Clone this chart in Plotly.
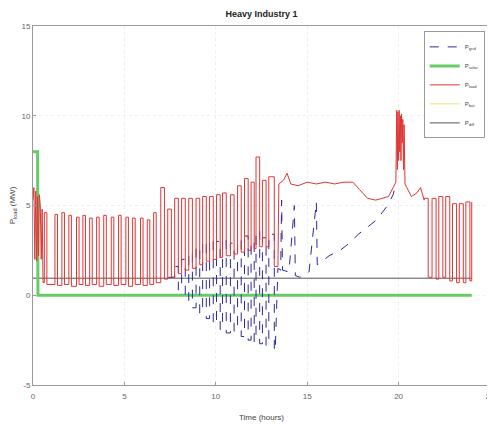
import plotly.graph_objects as go

# ---------------- data ----------------
# P_load: initial dense part
load_init_t = [0.0, 0.05, 0.1, 0.15, 0.2, 0.25, 0.3, 0.35, 0.4, 0.45, 0.5, 0.55]
load_init_v = [5.3, 6.0, 2.0, 5.8, 1.9, 5.5, 2.2, 5.6, 5.0, 2.0, 4.8, 0.7]

# P_load pulses, early morning
p1_on = [0.62, 1.2, 1.58, 1.96, 2.38, 2.73, 3.1, 3.48, 3.87, 4.28, 4.68, 5.08, 5.45, 5.88, 6.25, 6.6]
p1_off = [0.76, 1.34, 1.72, 2.1, 2.52, 2.87, 3.24, 3.62, 4.01, 4.42, 4.82, 5.22, 5.59, 6.02, 6.39, 6.74]
p1_top = [4.6, 4.5, 4.6, 4.45, 4.35, 4.45, 4.3, 4.35, 4.45, 4.35, 4.45, 4.35, 4.3, 4.3, 4.2, 4.6]
p1_base = [0.6, 0.55, 0.6, 0.5, 0.6, 0.55, 0.6, 0.5, 0.6, 0.55, 0.6, 0.5, 0.6, 0.55, 0.6, 0.7]

# P_load pulses, late morning / midday
p2_on = [6.99, 7.37, 7.75, 8.13, 8.52, 8.92, 9.28, 9.66, 10.04, 10.37, 10.8, 11.19, 11.57, 11.93, 12.2, 12.55, 12.9]
p2_off = [7.19, 7.57, 7.95, 8.33, 8.72, 9.12, 9.48, 9.86, 10.24, 10.57, 11.0, 11.39, 11.77, 12.1, 12.4, 12.75, 13.2]
p2_top = [6.0, 4.8, 5.4, 5.4, 5.4, 5.4, 5.5, 5.5, 5.6, 5.7, 5.6, 6.1, 6.5, 6.3, 7.7, 6.4, 6.6]
p2_base = [0.9, 1.0, 1.2, 1.4, 1.5, 1.7, 1.9, 2.0, 2.1, 2.2, 2.3, 2.4, 2.5, 2.6, 2.7, 2.7, 1.6]

# P_load continuous afternoon part incl. evening peak
load_mid_t = [13.4, 13.45, 13.7, 13.9, 14.1, 14.5, 15.0, 15.5, 16.0, 16.5, 17.0, 17.5, 17.85, 18.3, 18.75, 19.1, 19.45, 19.7, 19.85,
              19.9, 19.93, 19.96, 20.0, 20.03, 20.06, 20.1, 20.13, 20.16, 20.2, 20.23, 20.27, 20.3, 20.35,
              20.45, 20.7, 21.0, 21.2, 21.4]
load_mid_v = [1.6, 6.2, 6.4, 6.8, 6.2, 6.1, 6.3, 6.2, 6.3, 6.2, 6.3, 6.3, 5.9, 5.4, 5.3, 5.4, 5.5, 6.0, 6.3,
              10.3, 7.0, 10.2, 7.5, 10.3, 8.0, 10.0, 7.5, 10.1, 8.5, 9.8, 7.0, 9.5, 6.2,
              6.0, 5.5, 5.7, 6.0, 5.3]

# P_load pulses, evening
p3_on = [21.4, 21.83, 22.2, 22.58, 22.95, 23.32, 23.68, 24.0]
p3_off = [21.62, 22.05, 22.42, 22.8, 23.17, 23.54, 23.9, 24.0]
p3_top = [5.4, 5.4, 5.5, 5.5, 5.1, 5.1, 5.2, 5.2]
p3_base = [1.0, 0.9, 1.0, 0.8, 0.7, 0.7, 0.8, 5.2]

# P_grid (differs from P_load only between ~7.7 h and ~19.9 h)
g_on = [7.75, 8.13, 8.52, 8.92, 9.28, 9.66, 10.04, 10.37, 10.8, 11.19, 11.57, 11.93, 12.2, 12.55, 12.9]
g_off = [7.95, 8.33, 8.72, 9.12, 9.48, 9.86, 10.24, 10.57, 11.0, 11.39, 11.77, 12.1, 12.4, 12.75, 13.2]
g_top = [1.6, 2.0, 2.4, 2.7, 3.0, 3.1, 3.0, 3.2, 2.9, 3.1, 3.3, 3.0, 3.6, 3.2, 3.4]
g_base = [0.3, -0.3, -0.7, -1.0, -1.3, -1.6, -1.9, -2.1, -2.0, -2.3, -2.5, -2.6, -2.7, -2.8, -3.1]
grid_pre_t = [7.4, 7.57]
grid_pre_v = [1.0, 1.0]
grid_post_t = [13.25, 13.4, 13.55, 13.6, 13.65, 14.0, 14.3, 14.35, 14.6, 15.1, 15.5, 15.55, 15.7, 16.2, 16.8,
               17.3, 17.8, 18.3, 18.8, 19.1, 19.4, 19.7, 19.85]
grid_post_v = [-3.1, 1.5, 1.4, 5.3, 1.4, 1.3, 5.0, 1.1, 1.0, 1.3, 5.2, 1.7, 1.8, 2.2, 2.5,
               2.9, 3.4, 3.8, 4.2, 4.6, 5.0, 5.6, 6.2]

# P_solar, P_bat, P_diff
solar_t = [0.0, 0.25, 0.27, 24.0]
solar_v = [8.0, 8.0, 0.0, 0.0]
bat_t = [0.0, 24.0]
bat_v = [0.0, 0.0]
diff_t = [0.0, 24.0]
diff_v = [0.95, 0.95]

x_ticks = [0, 5, 10, 15, 20, 25]
y_ticks = [-5, 0, 5, 10, 15]


def pulses(on, off, top, base, start_level):
    xs, ys = [], []
    prev = start_level
    for a, b, t, lo in zip(on, off, top, base):
        xs += [a, a, b, b]
        ys += [prev, t, t, lo]
        prev = lo
    return xs, ys


x1, y1 = pulses(p1_on, p1_off, p1_top, p1_base, load_init_v[-1])
x2, y2 = pulses(p2_on, p2_off, p2_top, p2_base, p1_base[-1])
x3, y3 = pulses(p3_on, p3_off, p3_top, p3_base, load_mid_v[-1])
load_t = load_init_t + x1 + x2 + load_mid_t + x3
load_v = load_init_v + y1 + y2 + load_mid_v + y3

gx, gy = pulses(g_on, g_off, g_top, g_base, grid_pre_v[-1])
grid_t = grid_pre_t + gx + grid_post_t
grid_v = grid_pre_v + gy + grid_post_v

# ---------------- figure ----------------
fig = go.Figure()
fig.add_trace(go.Scatter(x=diff_t, y=diff_v, mode="lines", name="P<sub>diff</sub>",
                         line=dict(color="#555555", width=1), legendrank=5))
fig.add_trace(go.Scatter(x=bat_t, y=bat_v, mode="lines", name="P<sub>bat</sub>",
                         line=dict(color="#e6e66e", width=1), legendrank=4))
fig.add_trace(go.Scatter(x=solar_t, y=solar_v, mode="lines", name="P<sub>solar</sub>",
                         line=dict(color="#66cc66", width=3), legendrank=2))
fig.add_trace(go.Scatter(x=grid_t, y=grid_v, mode="lines", name="P<sub>grid</sub>",
                         line=dict(color="#2a2a9a", width=1, dash="dash"), legendrank=1))
fig.add_trace(go.Scatter(x=load_t, y=load_v, mode="lines", name="P<sub>load</sub>",
                         line=dict(color="#e03535", width=1), legendrank=3))

axis_common = dict(showline=True, mirror=True, linecolor="#9a9a9a", linewidth=1,
                   ticks="inside", ticklen=3, tickcolor="#9a9a9a", automargin=False,
                   showgrid=True, gridcolor="#eeeeee", griddash="dot", zeroline=False,
                   ticklabeloverflow="allow",
                   tickfont=dict(family="Liberation Sans, Arial", size=8, color="#666666"))

# the page body adds an 8 px offset, so the figure is sized 487 x 416
fig.update_layout(
    width=487, height=416,
    margin=dict(l=25, r=5, t=18, b=39),
    paper_bgcolor="white", plot_bgcolor="white",
    font=dict(family="Liberation Sans, Arial", color="#333333"),
    title=dict(text="<b>Heavy Industry 1</b>", x=0.5, xref="paper", y=1 - 6 / 416, yanchor="middle",
               font=dict(size=9, color="#222222"), automargin=False),
    xaxis=dict(range=[0, 25], tickvals=x_ticks, ticktext=[str(v) for v in x_ticks],
               ticklabelstandoff=3,
               title=dict(text="Time (hours)", font=dict(size=8, color="#444444"), standoff=14),
               **axis_common),
    yaxis=dict(range=[-5, 15], tickvals=y_ticks, ticktext=[str(v) for v in y_ticks],
               title=dict(text="P<sub>load</sub> (MW)", font=dict(size=8, color="#444444"), standoff=4),
               **axis_common),
    legend=dict(x=0.855, y=0.985, xanchor="left", yanchor="top",
                bgcolor="white", bordercolor="#9a9a9a", borderwidth=1,
                font=dict(size=6, color="#444444"), tracegroupgap=0, itemwidth=30),
    showlegend=True,
)

fig.write_html("out.html")
